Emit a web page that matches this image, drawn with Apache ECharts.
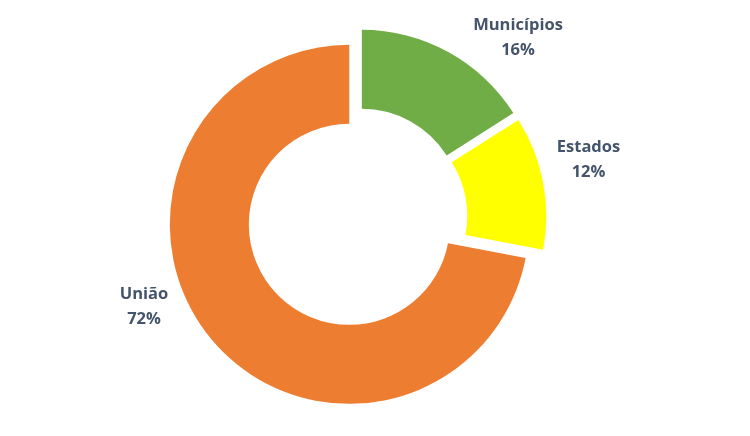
<!DOCTYPE html>
<html>
<head>
<meta charset="utf-8">
<script src="https://cdn.jsdelivr.net/npm/echarts@6/dist/echarts.min.js"></script>
<style>
html,body{margin:0;padding:0;background:#fff;}
#chart{width:750px;height:436px;}
</style>
</head>
<body>
<div id="chart"></div>
<script>
var categories = ['Municípios', 'Estados', 'União'];
var values = [16, 12, 72];
var colors = ['#70AD47', '#FFFF00', '#ED7D31'];
var labelPositions = [[518, 37.5], [588.5, 159.5], [144, 306.5]];

var chart = echarts.init(document.getElementById('chart'), null, {renderer: 'canvas'});
var data = categories.map(function (name, i) {
  return {
    name: name,
    value: values[i],
    selected: true,
    itemStyle: {color: colors[i]},
    select: {itemStyle: {color: colors[i], borderWidth: 0}}
  };
});
var total = values.reduce(function (a, b) { return a + b; }, 0);
var labels = categories.map(function (name, i) {
  return {
    type: 'text',
    x: labelPositions[i][0],
    y: labelPositions[i][1],
    silent: true,
    style: {
      text: name + '\n' + Math.round(values[i] / total * 100) + '%',
      fill: '#44546A',
      font: 'bold 16.5px "Open Sans"',
      lineHeight: 25,
      align: 'center',
      verticalAlign: 'middle',
      textAlign: 'center',
      textVerticalAlign: 'middle'
    }
  };
});
chart.setOption({
  animation: false,
  backgroundColor: '#ffffff',
  graphic: labels,
  series: [{
    type: 'pie',
    center: [357, 218],
    radius: [100.5, 179.5],
    startAngle: 90,
    clockwise: true,
    selectedMode: 'multiple',
    selectedOffset: 10,
    avoidLabelOverlap: false,
    emphasis: {scale: false},
    label: {show: false},
    labelLine: {show: false},
    data: data
  }]
});
</script>
</body>
</html>
